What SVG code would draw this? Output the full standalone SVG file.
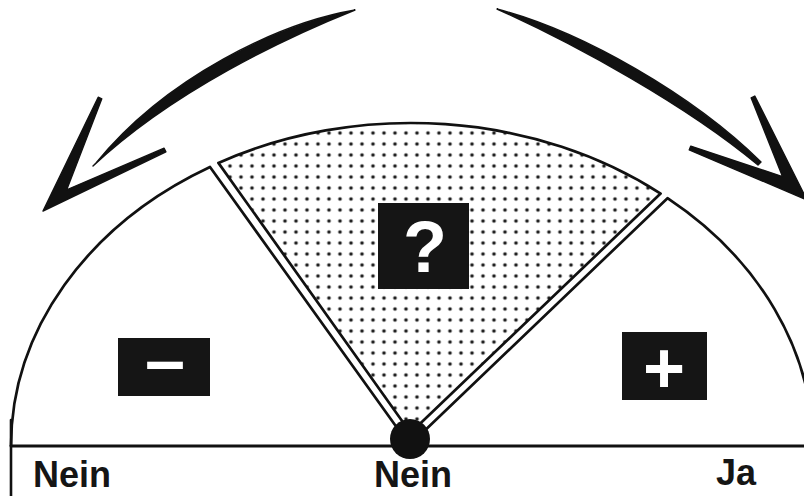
<svg xmlns="http://www.w3.org/2000/svg" width="804" height="496" viewBox="0 0 804 496">
<style>
.ln{fill:none;stroke:#111;stroke-width:2.6;stroke-linejoin:round;stroke-linecap:round}
.sec{fill:#fff;stroke:#111;stroke-width:2.7;stroke-linejoin:round}
.arr{fill:#111;stroke:#111;stroke-width:1.4;stroke-linejoin:round}
.box{fill:#151515}
.lbl{font-family:"Liberation Sans",Arial,sans-serif;font-weight:bold;font-size:36px;fill:#151515}
.sym{font-family:"Liberation Sans",Arial,sans-serif;font-weight:bold;fill:#fff;text-anchor:middle}
</style>
<defs>
<pattern id="dots" patternUnits="userSpaceOnUse" x="367.5" y="193.5" width="11" height="11">
<circle cx="5.5" cy="5.5" r="1.8" fill="#1a1a1a"/>
</pattern>
</defs>
<rect width="804" height="496" fill="#fff"/>
<g id="sector-minus">
<path class="sec" d="M 11,446 A 400 323 0 0 1 210,167 L 406.7,441.3"/>
<rect class="box" x="118" y="338" width="92" height="58"/>
<text class="sym" x="165" y="385" font-size="72">–</text>
</g>
<g id="sector-question">
<path class="sec" style="fill:url(#dots)" d="M 413.3,436.7 L 218.4,162.9 A 400 323 0 0 1 660.6,193.6 L 407.2,436.1 Z"/>
<rect class="box" x="378" y="203" width="91" height="86"/>
<text class="sym" x="425" y="272" font-size="72">?</text>
</g>
<g id="sector-plus">
<path class="sec" d="M 412.8,441.9 L 667.5,198.2 A 402 323 0 0 1 813,446"/>
<rect class="box" x="622" y="332" width="85" height="68"/>
<text class="sym" x="664" y="393" font-size="72">+</text>
</g>
<g id="baseline">
<line class="ln" x1="11" y1="446" x2="806" y2="446" style="stroke-width:3"/>
<line class="ln" x1="11" y1="420" x2="11" y2="498"/>
</g>
<g id="center-dot">
<circle cx="410" cy="439" r="20" fill="#111"/>
</g>
<g id="connectors">
<path class="arr" d="M 355,10 C 279,23 166,77 96,163 L 93,166 C 173,91 285,38 355,10 Z"/>
<path class="arr" d="M 98.2,97.2 L 43,211 L 165.9,151.8 L 164.1,148.2 L 66.7,189.8 L 101.8,98.8 Z"/>
<path class="arr" d="M 497,9 C 582,31 693,95 761,162 L 758,165 C 686,105 575,44 497,9 Z"/>
<path class="arr" d="M 754.8,96.1 L 807,200 L 689.2,149.9 L 690.8,146.1 L 782.5,176.6 L 751.2,97.9 Z"/>
</g>
<g id="labels">
<text class="lbl" x="33" y="487">Nein</text>
<text class="lbl" x="413" y="487" text-anchor="middle">Nein</text>
<text class="lbl" x="716" y="485">Ja</text>
</g>
</svg>
